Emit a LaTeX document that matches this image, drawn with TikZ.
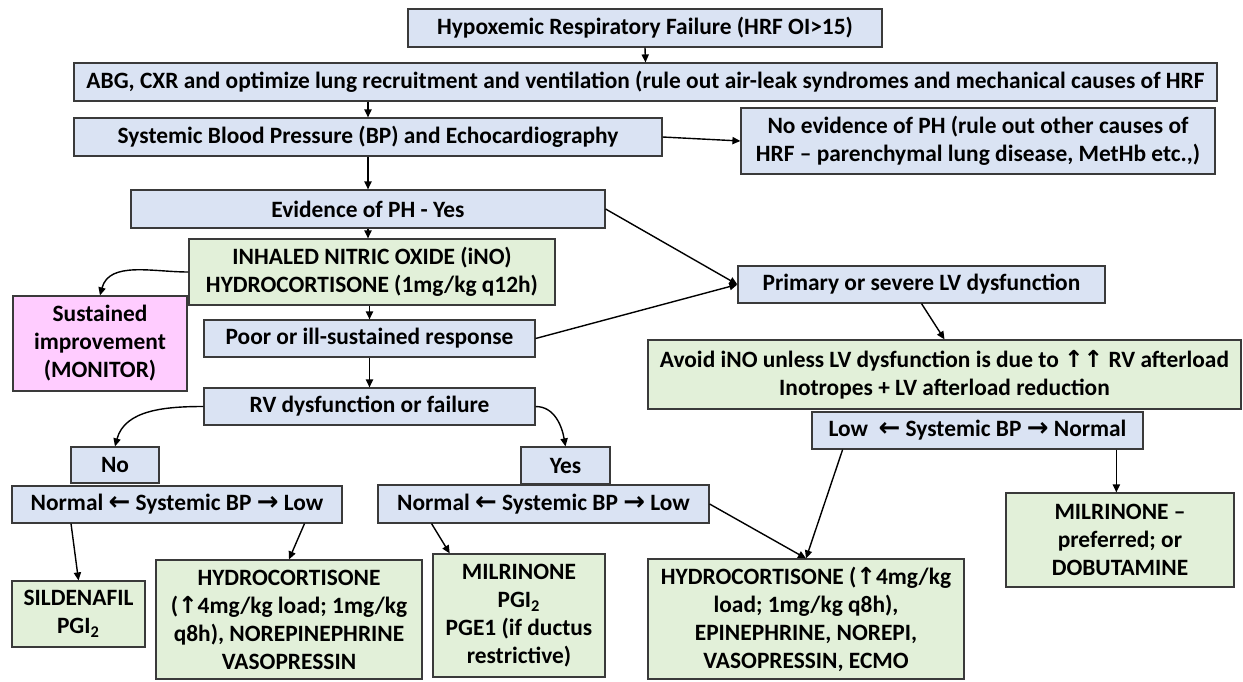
\documentclass[tikz,border=0pt]{standalone}
\usepackage{fontspec}
\setmainfont{Carlito}
\newfontfamily\arrowfont{DejaVu Sans}
\usetikzlibrary{arrows.meta,calc}
\definecolor{boxblue}{HTML}{DAE3F3}
\definecolor{boxgreen}{HTML}{E2F0D9}
\definecolor{boxpink}{HTML}{FFCCFF}
\definecolor{boxline}{HTML}{3A3A3A}
\newcommand{\arrL}{{\arrowfont\bfseries\fontsize{13}{13}\selectfont ←}}
\newcommand{\arrR}{{\arrowfont\bfseries\fontsize{13}{13}\selectfont →}}
\newcommand{\arrU}{{\arrowfont ↑}}
\tikzset{
  flowbox/.style={draw=boxline, line width=0.6pt, align=center, inner sep=1pt,
    font=\bfseries\fontsize{11.7}{14}\selectfont},
  bluebox/.style={flowbox, fill=boxblue},
  greenbox/.style={flowbox, fill=boxgreen},
  pinkbox/.style={flowbox, fill=boxpink},
  conn/.style={line width=0.7pt, -{Triangle[length=4pt,width=3.6pt]}},
}
\begin{document}
\begin{tikzpicture}[x=0.5pt,y=-0.5pt]
                    \useasboundingbox (0,0) rectangle (1243,681);
                    {

                    % Box hrf
                    \node[bluebox, minimum width=237pt, minimum height=19pt] (hrf) at (645,28) {Hypoxemic Respiratory Failure (HRF OI>15)};%

                    % Box abg
                    \node[bluebox, minimum width=571.5pt, minimum height=19pt] (abg) at (645.5,82) {ABG, CXR and optimize lung recruitment and ventilation (rule out air-leak syndromes and mechanical causes of HRF};%

                    % Box sbp
                    \node[bluebox, minimum width=294pt, minimum height=19pt] (sbp) at (368,137) {Systemic Blood Pressure (BP) and Echocardiography};%

                    % Box noph
                    \node[bluebox, minimum width=237pt, minimum height=33pt] (noph) at (978,141) {No evidence of PH (rule out other causes of\\HRF -- parenchymal lung disease, MetHb etc.,)};%

                    % Box evid
                    \node[bluebox, minimum width=237pt, minimum height=19pt] (evid) at (368,209) {Evidence of PH - Yes};%

                    % Box ino
                    \node[greenbox, minimum width=183pt, minimum height=33pt] (ino) at (372,272) {INHALED NITRIC OXIDE (iNO)\\HYDROCORTISONE (1mg/kg q12h)};%

                    % Box sust
                    \node[pinkbox, minimum width=87pt, minimum height=47.5pt] (sust) at (100,343.5) {Sustained\\improvement\\(MONITOR)};%

                    % Box poor
                    \node[bluebox, minimum width=165.5pt, minimum height=18.5pt] (poor) at (369.5,338.5) {Poor or ill-sustained response};%

                    % Box lvdys
                    \node[bluebox, minimum width=183.5pt, minimum height=18.5pt] (lvdys) at (921.5,284.5) {Primary or severe LV dysfunction};%

                    % Box avoid
                    \node[greenbox, minimum width=296.5pt, minimum height=34.5pt] (avoid) at (944.5,374.5) {Avoid iNO unless LV dysfunction is due to \arrU\arrU\ RV afterload\\Inotropes + LV afterload reduction};%

                    % Box rv
                    \node[bluebox, minimum width=165.5pt, minimum height=18.5pt] (rv) at (369.5,406.5) {RV dysfunction or failure};%

                    % Box no
                    \node[bluebox, minimum width=44pt, minimum height=18pt] (no) at (115,465) {No};%

                    % Box yes
                    \node[bluebox, minimum width=44.5pt, minimum height=18.5pt] (yes) at (565.5,465.5) {Yes};%

                    % Box bpa
                    \node[bluebox, minimum width=165pt, minimum height=18.5pt] (bpa) at (177,504.5) {Normal \arrL\ Systemic BP \arrR\ Low};%

                    % Box bpb
                    \node[bluebox, minimum width=165.5pt, minimum height=19pt] (bpb) at (543.5,504) {Normal \arrL\ Systemic BP \arrR\ Low};%

                    % Box bpc
                    \node[bluebox, minimum width=165.5pt, minimum height=18.5pt] (bpc) at (977.5,430.5) {Low\ \ \arrL\ Systemic BP \arrR\ Normal};%

                    % Box sild
                    \node[greenbox, minimum width=66.5pt, minimum height=33pt] (sild) at (78.5,614) {SILDENAFIL\\PGI\textsubscript{2}};%

                    % Box hca
                    \node[greenbox, minimum width=133pt, minimum height=59.5pt] (hca) at (289,619.5) {HYDROCORTISONE\\(\arrU4mg/kg load; 1mg/kg\\q8h), NOREPINEPHRINE\\VASOPRESSIN};%

                    % Box mila
                    \node[greenbox, minimum width=86pt, minimum height=61.5pt] (mila) at (519,615.5) {MILRINONE\\PGI\textsubscript{2}\\PGE1 (if ductus\\restrictive)};%

                    % Box hcb
                    \node[greenbox, minimum width=158pt, minimum height=60pt] (hcb) at (806,619) {HYDROCORTISONE (\arrU4mg/kg\\load; 1mg/kg q8h),\\EPINEPHRINE, NOREPI,\\VASOPRESSIN, ECMO};%

                    % Box milb
                    \node[greenbox, minimum width=114pt, minimum height=47pt] (milb) at (1120,540) {MILRINONE --\\preferred; or\\DOBUTAMINE};%

                    % Connectors down the main column
                    \draw[conn] (hrf.south) -- (abg.north);%
                    \draw[conn] (abg.south -| sbp.north) -- (sbp.north);%
                    \draw[conn] (sbp.south) -- (evid.north);%
                    \draw[conn] (sbp.east) -- (noph.west);%
                    \draw[conn] (evid.south) -- (evid.south |- ino.north);%
                    \draw[conn] (ino.south -| poor.north) -- (poor.north);%
                    \draw[conn] (poor.south) -- (rv.north);%
                    \draw[conn] (ino.west) to[out=180,in=75] (sust.north);%

                    % Connectors to LV dysfunction
                    \draw[conn] (evid.east) -- (lvdys.west);%
                    \draw[conn] (poor.east) -- (lvdys.west);%
                    \draw[conn] (lvdys.south) -- (avoid.north);%

                    % Connectors from RV dysfunction
                    \draw[conn] (rv.west) to[out=180,in=75] (no.north);%
                    \draw[conn] (rv.east) to[out=0,in=100] (yes.north);%

                    % Connectors from systemic BP boxes
                    \draw[conn] ($(bpa.south west)!0.18!(bpa.south east)$) -- (sild.north);%
                    \draw[conn] ($(bpa.south west)!0.885!(bpa.south east)$) -- (hca.north);%
                    \draw[conn] ($(bpb.south west)!0.163!(bpb.south east)$) -- ($(mila.north west)!0.1!(mila.north east)$);%
                    \draw[conn] (bpb.east) -- (hcb.north);%
                    \draw[conn] ($(bpc.south west)!0.094!(bpc.south east)$) -- (hcb.north);%
                    \draw[conn] ($(bpc.south west)!0.918!(bpc.south east)$) coordinate (bpcn) -- (bpcn |- milb.north);%
                    }
\end{tikzpicture}
\end{document}
